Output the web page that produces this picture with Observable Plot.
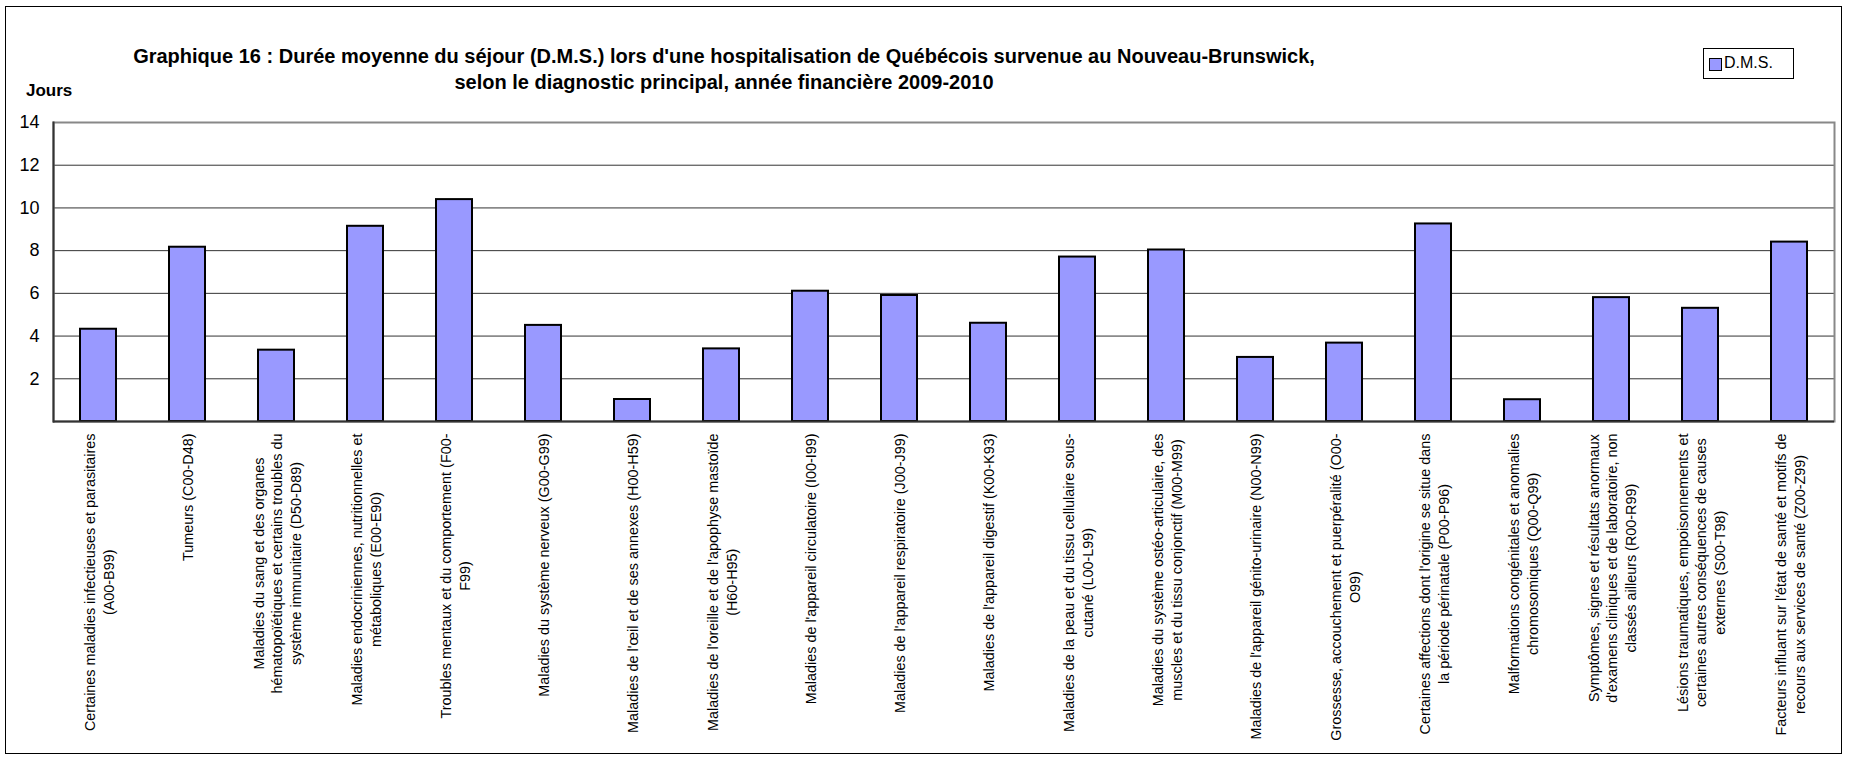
<!DOCTYPE html>
<html><head><meta charset="utf-8">
<script src="https://cdn.jsdelivr.net/npm/d3@7"></script>
<script src="https://cdn.jsdelivr.net/npm/@observablehq/plot@0.6"></script>
<style>
body{margin:0;background:#fff;font-family:"Liberation Sans",Arial,sans-serif;}
#wrap{position:relative;width:1849px;height:757px;overflow:hidden;}
#border{position:absolute;left:5px;top:6px;width:1837px;height:748px;border:1.5px solid #000;box-sizing:border-box;}
#chart{position:absolute;left:0;top:0;}
#title{position:absolute;left:0;width:1448px;top:43px;text-align:center;font-weight:bold;font-size:20px;line-height:26px;color:#000;}
#jours{position:absolute;left:26px;top:81px;font-weight:bold;font-size:17px;line-height:20px;color:#000;}
#legend{position:absolute;left:1703px;top:48px;width:91px;height:31px;border:1px solid #000;box-sizing:border-box;font-size:16px;}
#legend .sw{position:absolute;left:5px;top:9px;width:13px;height:13px;background:#9999FF;border:1.5px solid #000;box-sizing:border-box;}
#legend .lb{position:absolute;left:20px;top:5px;}
</style></head>
<body>
<div id="wrap">
  <div id="chart"></div>
  <div id="border"></div>
  <div id="title">Graphique 16 : Durée moyenne du séjour (D.M.S.) lors d'une hospitalisation de Québécois survenue au Nouveau-Brunswick,<br>selon le diagnostic principal, année financière 2009-2010</div>
  <div id="jours">Jours</div>
  <div id="legend"><div class="sw"></div><div class="lb">D.M.S.</div></div>
</div>
<script>
const categories = [
  "Certaines maladies infectieuses et parasitaires\n(A00-B99)",
  "Tumeurs (C00-D48)",
  "Maladies du sang et des organes\nhématopoïétiques et certains troubles du\nsystème immunitaire (D50-D89)",
  "Maladies endocriniennes, nutritionnelles et\nmétaboliques (E00-E90)",
  "Troubles mentaux et du comportement (F00-\nF99)",
  "Maladies du système nerveux (G00-G99)",
  "Maladies de l'œil et de ses annexes (H00-H59)",
  "Maladies de l'oreille et de l'apophyse mastoïde\n(H60-H95)",
  "Maladies de l'appareil circulatoire (I00-I99)",
  "Maladies de l'appareil respiratoire (J00-J99)",
  "Maladies de l'appareil digestif (K00-K93)",
  "Maladies de la peau et du tissu cellulaire sous-\ncutané (L00-L99)",
  "Maladies du système ostéo-articulaire, des\nmuscles et du tissu conjonctif (M00-M99)",
  "Maladies de l'appareil génito-urinaire (N00-N99)",
  "Grossesse, accouchement et puerpéralité (O00-\nO99)",
  "Certaines affections dont l'origine se situe dans\nla période périnatale (P00-P96)",
  "Malformations congénitales et anomalies\nchromosomiques (Q00-Q99)",
  "Symptômes, signes et résultats anormaux\nd'examens cliniques et de laboratoire, non\nclassés ailleurs (R00-R99)",
  "Lésions traumatiques, empoisonnements et\ncertaines autres conséquences de causes\nexternes (S00-T98)",
  "Facteurs influant sur l'état de santé et motifs de\nrecours aux services de santé (Z00-Z99)"
];
const dms = [4.32, 8.16, 3.34, 9.14, 10.39, 4.5, 1.03, 3.4, 6.1, 5.9, 4.6, 7.7, 8.03, 3.0, 3.67, 9.25, 1.02, 5.8, 5.3, 8.4];
const yTicks = [2, 4, 6, 8, 10, 12, 14];
const gridTicks = [2, 4, 6, 8, 10, 12];

const data = categories.map((c, i) => ({cat: c, val: dms[i]}));

const svg = Plot.plot({
  width: 1849,
  height: 757,
  marginLeft: 53,
  marginRight: 15,
  marginTop: 122,
  marginBottom: 336,
  style: {fontFamily: "'Liberation Sans', Arial, sans-serif", background: "transparent", color: "#000"},
  x: {domain: categories, paddingInner: 0.596, paddingOuter: 0.298, label: null},
  y: {domain: [0, 14], label: null},
  marks: [
    Plot.gridY(gridTicks, {stroke: "#333", strokeOpacity: 1, strokeWidth: 1}),
    Plot.frame({stroke: "#888", strokeWidth: 2}),
    Plot.frame({anchor: "left", stroke: "#333", strokeWidth: 2}),
    Plot.barY(data, {x: "cat", y: "val", fill: "#9999FF", stroke: "#000", strokeWidth: 2}),
    Plot.ruleY([0], {stroke: "#333", strokeWidth: 2}),
    Plot.axisY(yTicks, {tickSize: 0, tickPadding: 14, fontSize: 18, fill: "#000", label: null}),
    Plot.axisX({tickSize: 0, tickPadding: 12, tickRotate: -90, fontSize: 14.4, fill: "#000", lineHeight: 1.28, lineWidth: Infinity, textAnchor: "end", lineAnchor: "middle", label: null})
  ]
});
document.getElementById("chart").appendChild(svg);

// center the wrapped lines of each rotated tick label on its longest line
svg.querySelectorAll('g[aria-label="x-axis tick label"] text').forEach(t => {
  const spans = t.querySelectorAll("tspan");
  const lines = spans.length ? Array.from(spans) : [t];
  const L = Math.max(...lines.map(s => s.getComputedTextLength()));
  t.setAttribute("text-anchor", "middle");
  t.style.textAnchor = "middle";
  lines.forEach(s => s.setAttribute("x", -L / 2));
});
</script>
</body></html>
